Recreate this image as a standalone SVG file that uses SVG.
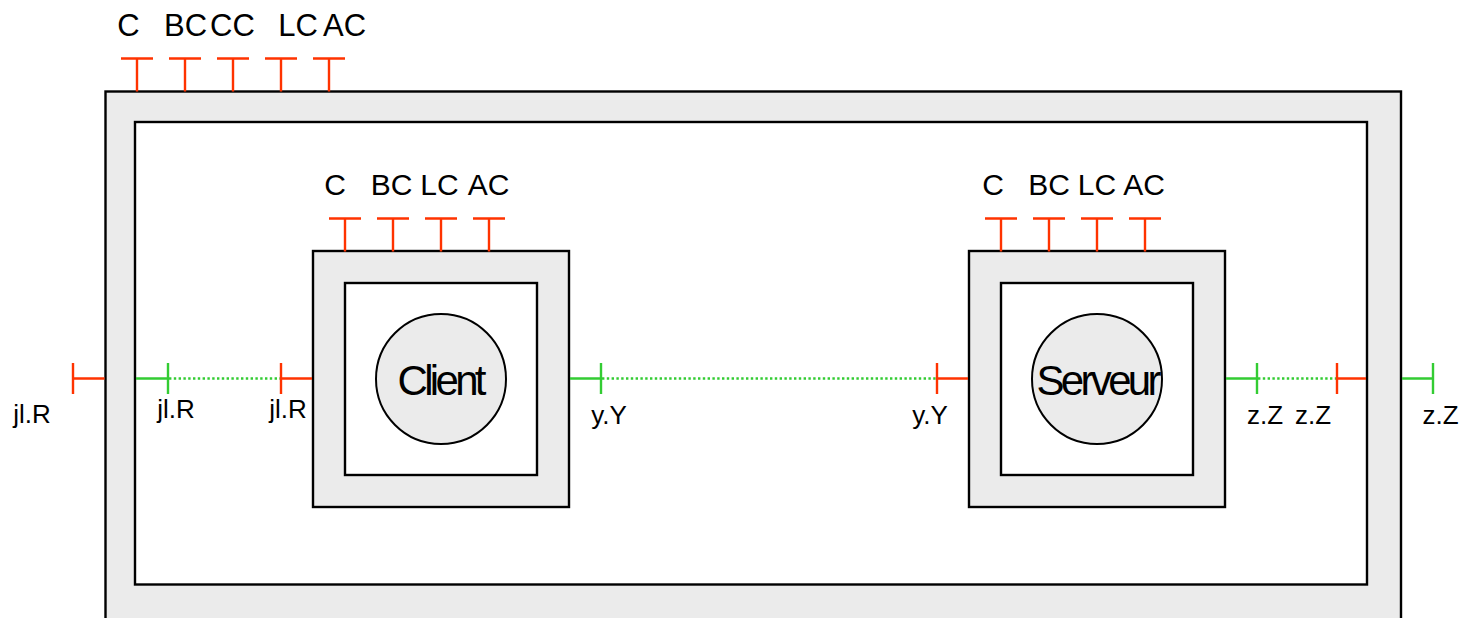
<svg xmlns="http://www.w3.org/2000/svg" width="1464" height="618" viewBox="0 0 1464 618">
<style>
.frame{fill:#ebebeb;stroke:#000;stroke-width:2.4}
.inner{fill:#fff;stroke:#000;stroke-width:2.4}
.circ{fill:#ebebeb;stroke:#000;stroke-width:2}
.red{stroke:#ff3300;stroke-width:2.4;fill:none}
.grn{stroke:#33cc33;stroke-width:2.4;fill:none}
.dot{stroke:#33cc33;stroke-width:2.4;fill:none;stroke-dasharray:2.4 2.4}
.lbl{font-family:"Liberation Sans",Arial,sans-serif;fill:#000;text-anchor:middle}
.big{font-size:31px}
.mid{font-size:30px}
.sm{font-size:26px}
.name{font-size:42px}
</style>
<defs>
<path id="portT" class="red" d="M-16,0H16M0,0V33"/>
</defs>
<g id="system">
<rect class="frame" x="105.5" y="91.5" width="1295.5" height="530"/>
<rect class="inner" x="135" y="122" width="1232" height="462.5"/>
<g id="system-ports">
<use href="#portT" x="137" y="58.5"/>
<use href="#portT" x="185" y="58.5"/>
<use href="#portT" x="233" y="58.5"/>
<use href="#portT" x="281" y="58.5"/>
<use href="#portT" x="329" y="58.5"/>
<text class="lbl big" x="128.5" y="36">C</text>
<text class="lbl big" x="185.5" y="36">BC</text>
<text class="lbl big" x="232.5" y="36">CC</text>
<text class="lbl big" x="298" y="36">LC</text>
<text class="lbl big" x="344.5" y="36">AC</text>
</g>
</g>
<g id="client">
<rect class="frame" x="313" y="251" width="256" height="256"/>
<rect class="inner" x="345" y="283" width="192" height="192"/>
<circle class="circ" cx="441" cy="379" r="65"/>
<text class="lbl name" x="442" y="395" textLength="89" lengthAdjust="spacing">Client</text>
<use href="#portT" x="345" y="218.5"/>
<use href="#portT" x="393" y="218.5"/>
<use href="#portT" x="441" y="218.5"/>
<use href="#portT" x="489" y="218.5"/>
<text class="lbl mid" x="335" y="195">C</text>
<text class="lbl mid" x="391.5" y="195">BC</text>
<text class="lbl mid" x="439.5" y="195">LC</text>
<text class="lbl mid" x="488.5" y="195">AC</text>
</g>
<g id="serveur">
<rect class="frame" x="969" y="251" width="256" height="256"/>
<rect class="inner" x="1001" y="283" width="192" height="192"/>
<circle class="circ" cx="1097" cy="379" r="65"/>
<text class="lbl name" x="1099" y="395" textLength="125" lengthAdjust="spacing">Serveur</text>
<use href="#portT" x="1001" y="218.5"/>
<use href="#portT" x="1049" y="218.5"/>
<use href="#portT" x="1097" y="218.5"/>
<use href="#portT" x="1145" y="218.5"/>
<text class="lbl mid" x="993" y="195">C</text>
<text class="lbl mid" x="1049" y="195">BC</text>
<text class="lbl mid" x="1097" y="195">LC</text>
<text class="lbl mid" x="1144" y="195">AC</text>
</g>
<g id="connectors">
<path class="red" d="M73,363V394M73,378.5H104.5"/>
<path class="grn" d="M136,378.5H168M168,363V394"/>
<path class="dot" d="M169,378.5H280"/>
<path class="red" d="M281,363V394M281,378.5H312"/>
<path class="grn" d="M570,378.5H601M601,363V394"/>
<path class="dot" d="M602,378.5H936"/>
<path class="red" d="M937,363V394M937,378.5H968"/>
<path class="grn" d="M1226,378.5H1257M1257,363V394"/>
<path class="dot" d="M1258,378.5H1336"/>
<path class="red" d="M1337,363V394M1337,378.5H1366"/>
<path class="grn" d="M1402,378.5H1433M1433,363V394"/>
<text class="lbl sm" x="32" y="423">jl.R</text>
<text class="lbl sm" x="176" y="418">jl.R</text>
<text class="lbl sm" x="288" y="418">jl.R</text>
<text class="lbl sm" x="609" y="424">y.Y</text>
<text class="lbl sm" x="930" y="424">y.Y</text>
<text class="lbl sm" x="1265" y="424">z.Z</text>
<text class="lbl sm" x="1313" y="424">z.Z</text>
<text class="lbl sm" x="1440.5" y="424">z.Z</text>
</g>
</svg>
